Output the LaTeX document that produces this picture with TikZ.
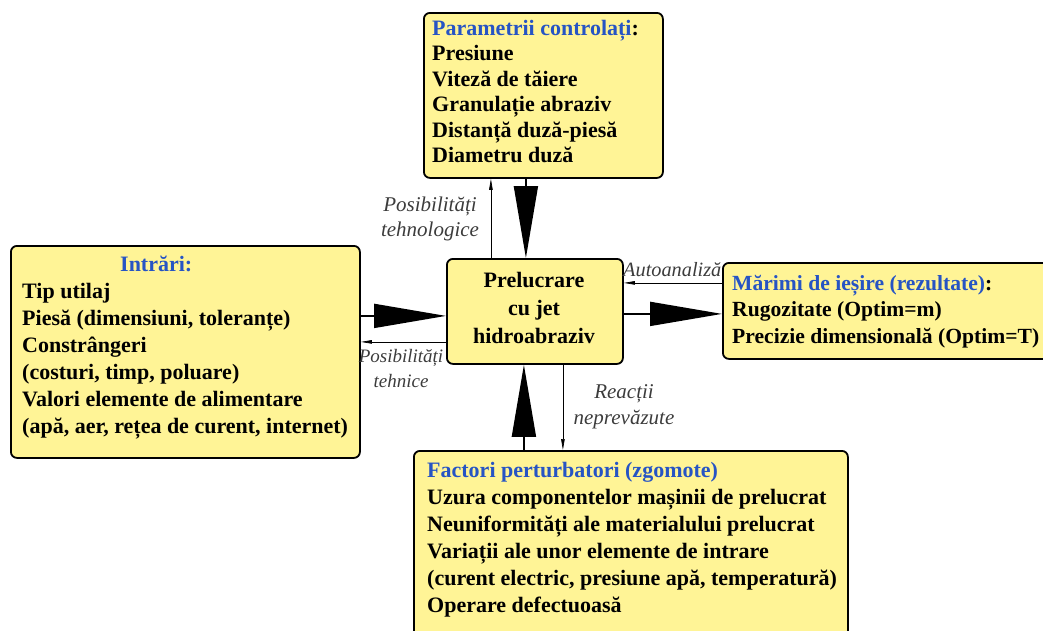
\documentclass[tikz,border=0pt]{standalone}
\usepackage{fontspec}
\setmainfont{Liberation Serif}
\usetikzlibrary{arrows.meta}
\definecolor{boxfill}{RGB}{255,244,150}
\definecolor{ttl}{RGB}{38,84,196}
\definecolor{lbl}{RGB}{60,60,60}
\begin{document}
\begin{tikzpicture}[x=1pt,y=-1pt,
  box/.style={draw=black, line width=1.8pt, rounded corners=6pt, fill=boxfill, inner sep=0pt, anchor=north west},
  txt/.style={font={\fontsize{22}{27}\selectfont\bfseries}, align=left, inner sep=0pt, anchor=north west},
  ctxt/.style={font={\fontsize{22}{28}\selectfont\bfseries}, align=center, inner sep=0pt, anchor=north},
  lab/.style={font={\fontsize{21}{25}\selectfont\itshape}, text=lbl, align=center, inner sep=0pt, anchor=north},
  big/.style={line width=1.8pt, -{Triangle[length=72pt,width=24pt]}},
  thin/.style={line width=0.7pt, -{Triangle[length=11pt,width=3.5pt]}}
]
\useasboundingbox (0,0) rectangle (1043,630);
\clip (0,0) rectangle (1043,630);

% boxes
\node[box, minimum width=239pt, minimum height=165pt] (top) at (423,12) {};
\node[box, minimum width=349pt, minimum height=212pt] (left) at (10,245) {};
\node[box, minimum width=176pt, minimum height=105pt] (mid) at (446,258) {};
\node[box, minimum width=331pt, minimum height=96pt] (right) at (722,262) {};
\node[box, minimum width=434pt, minimum height=200pt] (bot) at (413,450) {};

% texts
\node[txt, font={\fontsize{22}{25.5}\selectfont\bfseries}] (toptxt) at (432,17.2) {\strut\textcolor{ttl}{Parametrii controlați}:\\Presiune\\Viteză de tăiere\\Granulație abraziv\\Distanță duză-piesă\\Diametru duză};
\node[txt] (lefttitle) at (120,252.1) {\strut\textcolor{ttl}{Intrări:}};
\node[txt] (lefttxt) at (22,279.1) {\strut Tip utilaj\\Piesă (dimensiuni, toleranțe)\\Constrângeri\\(costuri, timp, poluare)\\Valori elemente de alimentare\\(apă, aer, rețea de curent, internet)};
\node[ctxt] (midtxt) at (534,267.4) {\strut Prelucrare\\cu jet\\hidroabraziv};
\node[txt, font={\fontsize{21.6}{26.5}\selectfont\bfseries}] (righttxt) at (732,271.5) {\strut\textcolor{ttl}{Mărimi de ieșire (rezultate)}:\\Rugozitate (Optim=m)\\Precizie dimensională (Optim=T)};
\node[txt] (bottxt) at (427,458.1) {\strut\textcolor{ttl}{Factori perturbatori (zgomote)}\\Uzura componentelor mașinii de prelucrat\\Neuniformități ale materialului prelucrat\\Variații ale unor elemente de intrare\\(curent electric, presiune apă, temperatură)\\Operare defectuoasă};

% labels
\node[lab] (l1) at (430,193.5) {\strut Posibilități\\tehnologice};
\node[lab, font={\fontsize{19}{25}\selectfont\itshape}] (l2) at (401,344.5) {\strut Posibilități\\tehnice};
\node[lab, font={\fontsize{20.3}{25}\selectfont\itshape}, anchor=north west] (l3) at (623,258.5) {\strut Autoanaliză};
\node[lab, font={\fontsize{21}{26}\selectfont\itshape}] (l4) at (624,379.8) {\strut Reacții\\neprevăzute};

% big arrows
\draw[big] ([xshift=-17.5pt]top.south) -- ([xshift=-9pt]mid.north);
\draw[big] ([yshift=36pt]left.east) -- ([yshift=-4.5pt]mid.west);
\draw[big] ([yshift=-2.5pt]mid.east) -- ([yshift=-3pt]right.west);
\draw[big] ([xshift=-107pt]bot.north) -- ([xshift=-11pt]mid.south);

% thin arrows
\draw[thin] ([xshift=-44pt]mid.north) -- ([xshift=-52.5pt]top.south);
\draw[thin] ([yshift=-30.5pt]mid.west) -- ([yshift=10pt]left.east);
\draw[thin] ([yshift=28pt]right.west) -- ([yshift=28.5pt]mid.east);
\draw[thin] ([xshift=28pt]mid.south) -- ([xshift=-68pt]bot.north);
\end{tikzpicture}
\end{document}
